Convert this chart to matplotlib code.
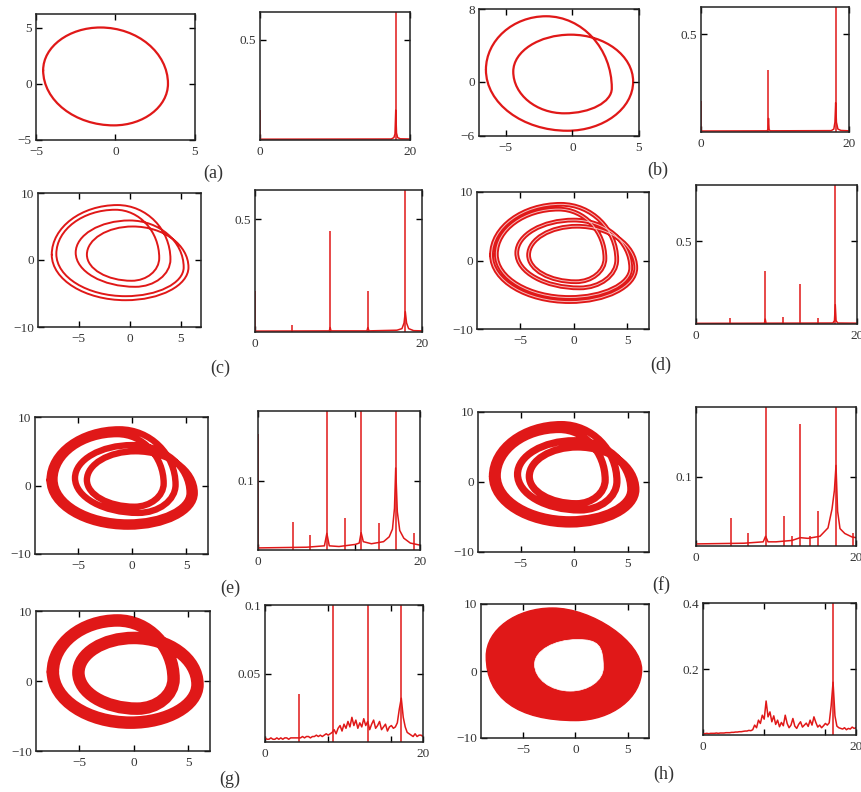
import numpy as np
import matplotlib.pyplot as plt
from matplotlib.path import Path
from matplotlib.patches import PathPatch

plt.rcParams['font.family'] = ['Liberation Serif', 'DejaVu Serif']

RED = "#e01818"

# ---- phase portraits: extreme points of each turn, in drawing order
# left, top, right, bottom, left, top, ...  (x, y)
a_loop = [(-4.55, 1.2), (-0.95, 5.0), (3.3, 0.0), (-0.1, -3.7)]

b_loop = [(-6.48, 1.3), (-1.97, 7.2), (2.96, -0.74), (-0.6, -3.5),
          (-4.43, 1.1), (-0.12, 5.17), (4.56, 0.0), (-0.37, -5.42)]

c_loop = [(-7.65, 0.8), (-1.2, 8.2), (4.0, 0.1), (0.55, -4.0),
          (-5.3, 1.1), (0.0, 5.9), (5.3, -1.1), (-0.4, -5.4),
          (-7.2, 0.9), (-1.4, 7.5), (2.9, 0.3), (0.2, -3.1),
          (-4.2, 0.8), (0.3, 5.0), (5.77, -1.1), (-0.4, -6.0)]

g_loop = [(-7.45, 1.3), (-1.5, 8.65), (3.65, 0.3), (0.3, -3.95),
          (-5.1, 1.2), (0.0, 6.15), (5.85, -0.5), (-0.3, -5.95)]

h_outer = [(-8.5, 2.2), (-2.2, 9.4), (6.3, 0.2), (0.0, -7.4)]
h_outer_k = [0.55, 0.45, 0.55, 0.65]
h_hole = [(-3.9, 1.0), (0.2, 4.7), (2.65, 0.5), (-0.5, -3.0)]
h_hole_k = [0.55, 0.8, 0.55, 0.55]

# ---- spectra: sharp lines (frequency, height) and the floor under them
a_peak_f = [0.05, 18.1]
a_peak_h = [0.15, 1.0]
a_floor_f = [0, 17.5, 17.85, 18.0, 18.1, 18.2, 18.35, 18.7, 20]
a_floor_a = [0.004, 0.005, 0.012, 0.03, 0.15, 0.035, 0.012, 0.006, 0.005]

b_peak_f = [0.05, 9.12, 18.2]
b_peak_h = [0.16, 0.32, 1.0]
b_floor_f = [0, 8.9, 9.05, 9.12, 9.2, 9.35, 17.6, 17.95, 18.1, 18.2, 18.3, 18.5, 18.9, 20]
b_floor_a = [0.005, 0.006, 0.012, 0.07, 0.012, 0.006, 0.007, 0.015, 0.05, 0.15, 0.05, 0.015, 0.008, 0.006]

c_peak_f = [0.05, 4.48, 9.0, 13.52, 18.0]
c_peak_h = [0.18, 0.03, 0.45, 0.18, 1.0]
c_floor_f = [0, 8.9, 9.0, 9.1, 13.4, 13.52, 13.65, 17.0, 17.6, 17.85, 18.0, 18.15, 18.4, 19, 20]
c_floor_a = [0.004, 0.005, 0.02, 0.005, 0.005, 0.02, 0.005, 0.008, 0.015, 0.04, 0.09, 0.04, 0.015, 0.006, 0.005]

d_peak_f = [4.22, 8.6, 10.85, 12.96, 15.1, 17.3]
d_peak_h = [0.036, 0.32, 0.042, 0.24, 0.036, 1.0]
d_floor_f = [0, 8.5, 8.6, 8.7, 17.0, 17.2, 17.3, 17.4, 17.6, 20]
d_floor_a = [0.004, 0.005, 0.03, 0.005, 0.006, 0.02, 0.117, 0.02, 0.006, 0.005]

e_peak_f = [0.05, 4.3, 6.45, 8.5, 10.68, 12.73, 14.95, 17.0, 19.26]
e_peak_h = [0.167, 0.041, 0.022, 1.0, 0.046, 1.0, 0.039, 1.0, 0.024]
e_floor_f = [0, 6, 8.2, 8.5, 8.8, 10, 12.0, 12.5, 12.73, 13.0, 14, 15.5, 16.2, 16.6,
             16.85, 17.0, 17.2, 17.5, 18, 18.8, 20]
e_floor_a = [0.003, 0.004, 0.006, 0.024, 0.006, 0.005, 0.008, 0.01, 0.025, 0.012, 0.009,
             0.012, 0.019, 0.03, 0.06, 0.118, 0.055, 0.028, 0.017, 0.01, 0.007]

f_peak_f = [4.36, 6.5, 8.7, 10.95, 12.0, 13.03, 14.27, 15.2, 17.5, 19.67]
f_peak_h = [0.04, 0.019, 1.0, 0.043, 0.014, 0.176, 0.014, 0.05, 1.0, 0.019]
f_floor_f = [0, 6, 8.4, 8.7, 9.0, 10, 12, 13.03, 14, 15.5, 16.5, 17.0, 17.3, 17.5,
             17.7, 18.0, 18.6, 19.5, 20]
f_floor_a = [0.003, 0.004, 0.006, 0.014, 0.006, 0.006, 0.008, 0.012, 0.011, 0.014,
             0.026, 0.053, 0.08, 0.116, 0.05, 0.025, 0.018, 0.013, 0.012]

g_peak_f = [4.3, 8.63, 13.05, 17.26]
g_peak_h = [0.035, 1.0, 1.0, 1.0]
# broadband floor, one value every 0.25 from 0 to 20
g_floor_a = [0.003, 0.002, 0.002, 0.003, 0.002, 0.002, 0.003, 0.002, 0.003, 0.002,
             0.003, 0.003, 0.002, 0.003, 0.003, 0.003, 0.003,
             0.003, 0.003, 0.004, 0.003, 0.004, 0.004, 0.003, 0.004, 0.004, 0.005,
             0.004, 0.005, 0.004, 0.005, 0.006, 0.005, 0.006, 0.007,
             0.009, 0.006, 0.010, 0.012, 0.008, 0.013, 0.010, 0.015, 0.011, 0.018,
             0.012, 0.016, 0.010, 0.014, 0.011, 0.017, 0.012, 0.015, 0.009, 0.013,
             0.016, 0.010, 0.012, 0.015, 0.009, 0.011, 0.013, 0.008, 0.011, 0.012,
             0.010, 0.011, 0.014, 0.024, 0.032, 0.018, 0.011,
             0.007, 0.006, 0.005, 0.004, 0.006, 0.004, 0.005, 0.005, 0.004]

h_peak_f = [17.02]
h_peak_h = [1.0]
h_floor_a = [0.004, 0.004, 0.005, 0.004, 0.005, 0.005, 0.005, 0.006, 0.005, 0.006,
             0.006, 0.006, 0.007, 0.007, 0.007,
             0.008, 0.008, 0.009, 0.009, 0.010, 0.010, 0.011, 0.012, 0.012, 0.014,
             0.013, 0.016,
             0.030, 0.022, 0.045, 0.035, 0.060, 0.048, 0.103, 0.055, 0.070, 0.040,
             0.058, 0.032, 0.045,
             0.025, 0.038, 0.028, 0.060, 0.035, 0.022, 0.030, 0.050, 0.027, 0.020,
             0.032, 0.040, 0.024, 0.030, 0.036, 0.026, 0.045, 0.030, 0.055, 0.038,
             0.024, 0.030, 0.022, 0.028, 0.035,
             0.030, 0.037, 0.088, 0.160, 0.058, 0.027, 0.022,
             0.020, 0.018, 0.022, 0.016, 0.020, 0.018, 0.024, 0.020, 0.022]

panel_names = ["(a)", "(b)", "(c)", "(d)", "(e)", "(f)", "(g)", "(h)"]

W, H = 862, 792


def loop_path(points, k=0.55):
    # smooth closed curve through the extremes: vertical tangent at
    # left/right points, horizontal tangent at top/bottom points
    n = len(points)
    ks = k if isinstance(k, list) else [k] * n
    verts = [points[0]]
    codes = [Path.MOVETO]
    for i in range(n):
        x0, y0 = points[i]
        x1, y1 = points[(i + 1) % n]
        kk = ks[i]
        if i % 2 == 0:
            c1 = (x0, y0 + kk * (y1 - y0))
            c2 = (x1 - kk * (x1 - x0), y1)
        else:
            c1 = (x0 + kk * (x1 - x0), y0)
            c2 = (x1, y1 - kk * (y1 - y0))
        verts += [c1, c2, (x1, y1)]
        codes += [Path.CURVE4] * 3
    return Path(verts, codes)


def box(fig, l, t, r, b):
    return fig.add_axes([l / W, 1 - b / H, (r - l) / W, (b - t) / H])


def style(ax):
    for s in ax.spines.values():
        s.set_linewidth(1.1)
        s.set_color("#222222")
    ax.tick_params(direction="in", top=True, right=True, length=4, width=1,
                   labelsize=9.5, labelcolor="#333333")
    ax.tick_params(axis="x", pad=4)
    ax.tick_params(axis="y", pad=3)


def fmt(vals):
    return [("%g" % v).replace("-", "\u2212") for v in vals]


def portrait(ax, xlim, ylim, xt, yt):
    ax.set_xlim(*xlim)
    ax.set_ylim(*ylim)
    ax.set_xticks(xt, labels=fmt(xt))
    ax.set_yticks(yt, labels=fmt(yt))
    style(ax)


def spectrum(ax, pf, ph, ff, fa, ymax, yt, top=()):
    ax.plot(ff, fa, color=RED, lw=1.1)
    ax.vlines(pf, 0, ph, color=RED, lw=1.1)
    ax.set_xlim(0, 20)
    ax.set_ylim(0, ymax)
    ax.set_xticks([0, 20], labels=["0", "20"])
    ax.set_yticks(yt, labels=fmt(yt))
    ax.set_xticks(list(top), minor=True)
    style(ax)
    ax.tick_params(which="minor", direction="in", top=True, length=4, width=1)


def draw_loop(ax, pts, lw, inner=False):
    ax.add_patch(PathPatch(loop_path(pts), fill=False, edgecolor=RED, lw=lw,
                           capstyle="round", joinstyle="round"))
    if inner:
        ax.add_patch(PathPatch(loop_path(pts), fill=False, edgecolor="white",
                               lw=0.7, alpha=0.7))


def main():
    fig = plt.figure(figsize=(W / 100, H / 100), dpi=100)

    # (a)
    ax = box(fig, 36, 14, 195, 140)
    draw_loop(ax, a_loop, 1.6)
    portrait(ax, (-5, 5), (-5, 6.2), [-5, 0, 5], [-5, 0, 5])
    ax = box(fig, 260, 12, 410, 140)
    spectrum(ax, a_peak_f, a_peak_h, a_floor_f, a_floor_a, 0.64, [0.5])

    # (b)
    ax = box(fig, 479, 9, 639, 136)
    draw_loop(ax, b_loop, 1.6)
    portrait(ax, (-7, 5), (-6, 8), [-5, 0, 5], [-6, 0, 8])
    ax = box(fig, 701, 7, 849, 132)
    spectrum(ax, b_peak_f, b_peak_h, b_floor_f, b_floor_a, 0.64, [0.5])

    # (c)
    ax = box(fig, 38, 193, 201, 327)
    draw_loop(ax, c_loop, 1.4)
    portrait(ax, (-9, 7), (-10, 10), [-5, 0, 5], [-10, 0, 10])
    ax = box(fig, 255, 190, 422, 332)
    spectrum(ax, c_peak_f, c_peak_h, c_floor_f, c_floor_a, 0.63, [0.5])

    # (d)
    ax = box(fig, 477, 192, 649, 329)
    draw_loop(ax, c_loop, 3.4, inner=True)
    portrait(ax, (-9, 7), (-10, 10), [-5, 0, 5], [-10, 0, 10])
    ax = box(fig, 696, 185, 857, 324)
    spectrum(ax, d_peak_f, d_peak_h, d_floor_f, d_floor_a, 0.84, [0.5])

    # (e)
    ax = box(fig, 35, 417, 208, 554)
    draw_loop(ax, c_loop, 4.6)
    portrait(ax, (-9, 7), (-10, 10), [-5, 0, 5], [-10, 0, 10])
    ax = box(fig, 258, 411, 420, 550)
    spectrum(ax, e_peak_f, e_peak_h, e_floor_f, e_floor_a, 0.2, [0.1], top=[12])

    # (f)
    ax = box(fig, 478, 412, 649, 552)
    draw_loop(ax, c_loop, 5.2)
    portrait(ax, (-9, 7), (-10, 10), [-5, 0, 5], [-10, 0, 10])
    ax = box(fig, 696, 407, 856, 546)
    spectrum(ax, f_peak_f, f_peak_h, f_floor_f, f_floor_a, 0.2, [0.1])

    # (g)
    ax = box(fig, 36, 611, 210, 751)
    draw_loop(ax, g_loop, 9)
    portrait(ax, (-9, 7), (-10, 10), [-5, 0, 5], [-10, 0, 10])
    ax = box(fig, 265, 605, 423, 742)
    g_f = np.linspace(0, 20, len(g_floor_a))
    spectrum(ax, g_peak_f, g_peak_h, g_f, g_floor_a, 0.1, [0.05, 0.1], top=[8, 16])

    # (h)
    ax = box(fig, 481, 604, 649, 738)
    ax.add_patch(PathPatch(loop_path(h_outer, h_outer_k), facecolor=RED,
                           edgecolor=RED, lw=1))
    ax.add_patch(PathPatch(loop_path(h_hole, h_hole_k), facecolor="white",
                           edgecolor="white", lw=0.5))
    portrait(ax, (-9, 7), (-10, 10), [-5, 0, 5], [-10, 0, 10])
    ax = box(fig, 703, 603, 856, 735)
    h_f = np.linspace(0, 20, len(h_floor_a))
    spectrum(ax, h_peak_f, h_peak_h, h_f, h_floor_a, 0.4, [0.2, 0.4], top=[8, 16])

    label_xy = [(213, 173), (658, 170), (220, 368), (661, 365),
                (230, 588), (661, 585), (230, 779), (664, 774)]
    for name, (x, y) in zip(panel_names, label_xy):
        fig.text(x / W, 1 - y / H, name, ha="center", va="center", fontsize=13,
                 color="#333333")

    fig.savefig("out.png", dpi=100)


main()
